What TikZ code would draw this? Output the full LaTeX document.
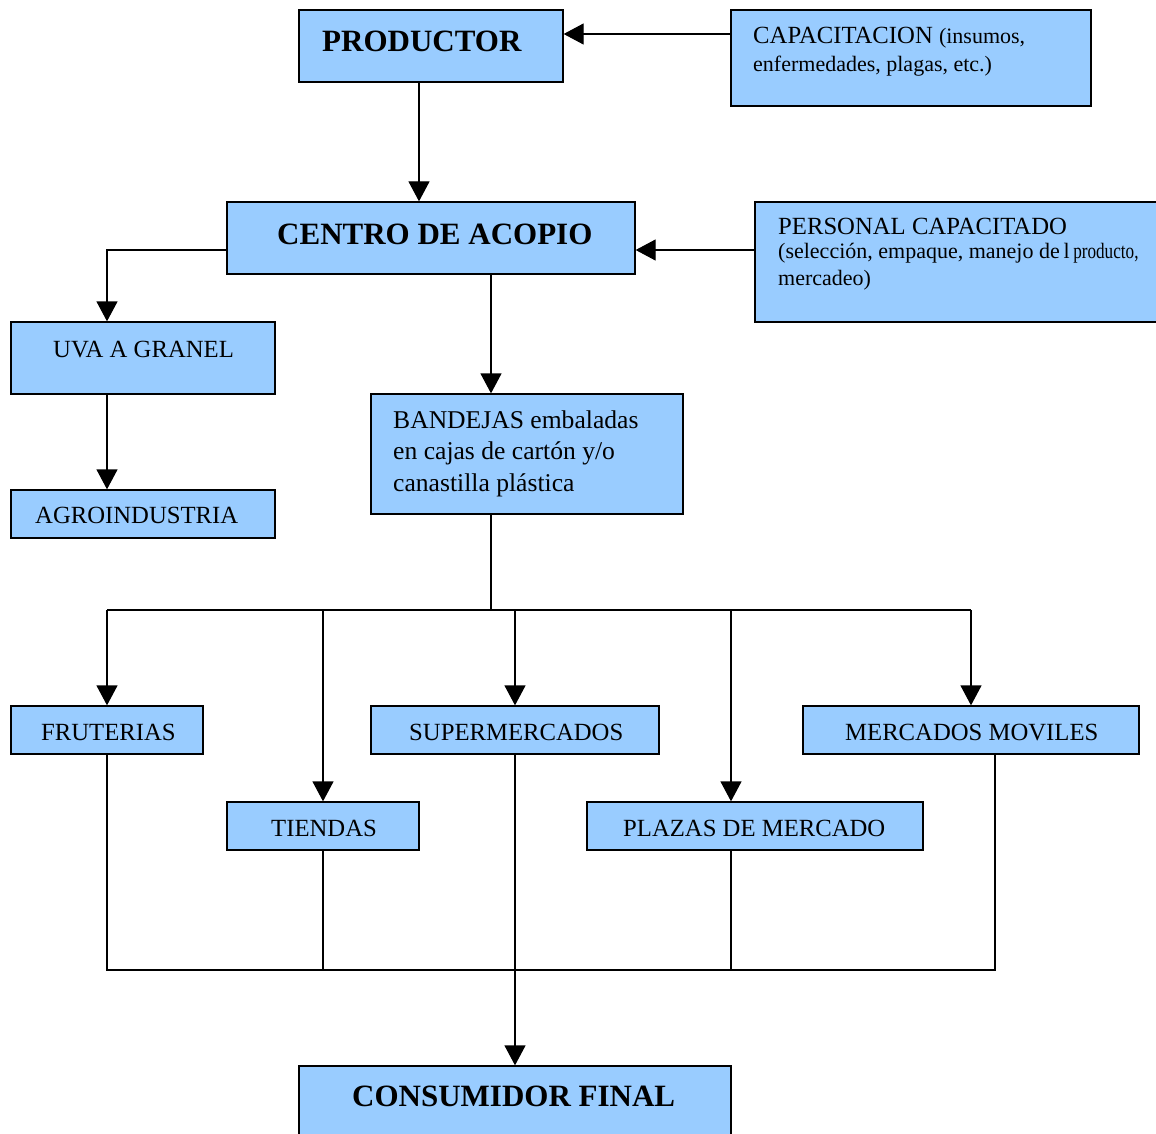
\documentclass[tikz,border=0pt]{standalone}
\usepackage{fontspec}
\setmainfont{Liberation Serif}
\usetikzlibrary{arrows.meta}
\definecolor{boxblue}{HTML}{99CCFF}
\tikzset{
  box/.style={draw=black, fill=boxblue, line width=1.3pt, inner sep=0pt},
  conn/.style={line width=1.3pt, draw=black},
  arr/.style={conn, -{Triangle[length=20pt,width=21pt]}},
  txt/.style={anchor=base west, inner sep=0pt, font=\fontsize{24.7}{28}\selectfont},
  bandtxt/.style={anchor=base west, inner sep=0pt, font=\fontsize{25.6}{28}\selectfont},
  smalltxt/.style={anchor=base west, inner sep=0pt, font=\fontsize{22}{24}\selectfont},
  bigtxt/.style={anchor=base west, inner sep=0pt, font=\fontsize{31}{34}\selectfont\bfseries},
}
\begin{document}
\begin{tikzpicture}[x=1pt,y=-1pt]
\clip (0,0) rectangle (1156,1134);
\fill[white] (0,0) rectangle (1156,1134);
% boxes
\node[box, minimum width=264pt, minimum height=72pt] (prod) at (431,46) {};
\node[box, minimum width=360pt, minimum height=96pt] (cap) at (911,58) {};
\node[box, minimum width=408pt, minimum height=72pt] (centro) at (431,238) {};
\node[box, minimum width=420pt, minimum height=120pt] (pers) at (965,262) {};
\node[box, minimum width=264pt, minimum height=72pt] (uva) at (143,358) {};
\node[box, minimum width=264pt, minimum height=48pt] (agro) at (143,514) {};
\node[box, minimum width=312pt, minimum height=120pt] (band) at (527,454) {};
\node[box, minimum width=192pt, minimum height=48pt] (fru) at (107,730) {};
\node[box, minimum width=288pt, minimum height=48pt] (sup) at (515,730) {};
\node[box, minimum width=336pt, minimum height=48pt] (merc) at (971,730) {};
\node[box, minimum width=192pt, minimum height=48pt] (tie) at (323,826) {};
\node[box, minimum width=336pt, minimum height=48pt] (plaz) at (755,826) {};
\node[box, minimum width=432pt, minimum height=100pt] (cons) at (515,1116) {};
% texts
\node[bigtxt] (tprod) at (322,52) {PRODUCTOR};
\node[txt] (tcap1) at (753,44) {CAPACITACION {\fontsize{22}{24}\selectfont(insumos,}};
\node[smalltxt] (tcap2) at (753,72) {enfermedades, plagas, etc.)};
\node[bigtxt] (tcentro) at (277,244) {CENTRO DE ACOPIO};
\node[txt] (tpers1) at (778,234) {PERSONAL CAPACITADO};
\node[smalltxt] (tpers2) at (778,258) {(selección, empaque, manejo de\,l\,\scalebox{0.78}[1]{producto,}};
\node[smalltxt] (tpers3) at (778,285) {mercadeo)};
\node[txt] (tuva) at (53,357) {UVA A GRANEL};
\node[txt] (tagro) at (35,523) {AGROINDUSTRIA};
\node[bandtxt] (tband1) at (393,428) {BANDEJAS embaladas};
\node[bandtxt] (tband2) at (393,459) {en cajas de cartón y/o};
\node[bandtxt] (tband3) at (393,491) {canastilla plástica};
\node[txt] (tfru) at (41,740) {FRUTERIAS};
\node[txt] (tsup) at (409,740) {SUPERMERCADOS};
\node[txt] (tmerc) at (845,740) {MERCADOS MOVILES};
\node[txt] (ttie) at (271,836) {TIENDAS};
\node[txt] (tplaz) at (623,836) {PLAZAS DE MERCADO};
\node[bigtxt] (tcons) at (352,1106) {CONSUMIDOR FINAL};
% junctions
\coordinate (jtop) at (491,610);
\coordinate (jbot) at (515,970);
% connectors
\draw[arr] (cap.west |- 0,34) -- (prod.east |- 0,34);
\draw[arr] ([xshift=-12pt]prod.south) -- ([xshift=-12pt]prod.south |- centro.north);
\draw[arr] (pers.west |- 0,250) -- (centro.east |- 0,250);
\draw[arr] (centro.west |- 0,250) -| ([xshift=-36pt]uva.north);
\draw[arr] ([xshift=-36pt]uva.south) -- ([xshift=-36pt]uva.south |- agro.north);
\draw[arr] ([xshift=60pt]centro.south) -- ([xshift=-36pt]band.north);
\draw[conn] ([xshift=-36pt]band.south) -- (jtop);
\draw[conn] (fru.north |- jtop) -- (merc.north |- jtop);
\draw[arr] (fru.north |- jtop) -- (fru.north);
\draw[arr] (tie.north |- jtop) -- (tie.north);
\draw[arr] (sup.north |- jtop) -- (sup.north);
\draw[arr] ([xshift=-24pt]plaz.north |- jtop) -- ([xshift=-24pt]plaz.north);
\draw[arr] (merc.north |- jtop) -- (merc.north);
\draw[conn] (fru.south) -- (fru.south |- jbot) -- ([xshift=24pt]merc.south |- jbot) -- ([xshift=24pt]merc.south);
\draw[conn] (tie.south) -- (tie.south |- jbot);
\draw[conn] ([xshift=-24pt]plaz.south) -- ([xshift=-24pt]plaz.south |- jbot);
\draw[arr] (sup.south) -- (cons.north);
\end{tikzpicture}
\end{document}
